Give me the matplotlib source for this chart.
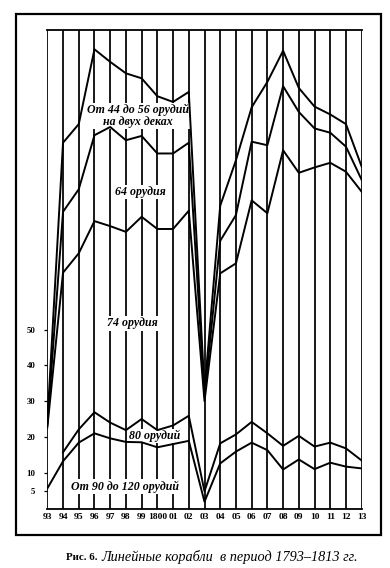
import matplotlib.pyplot as plt
import numpy as np
from matplotlib.patches import Rectangle

plt.rcParams["font.family"] = ["Liberation Serif", "DejaVu Serif"]

# year labels (1793-1813)
years = ["93", "94", "95", "96", "97", "98", "99", "1800", "01", "02", "03",
         "04", "05", "06", "07", "08", "09", "10", "11", "12", "13"]

# cumulative (stacked) number of ships
guns_90_120 = [5.6, 13.2, 18.4, 21.0, 19.6, 18.6, 18.5, 17.1, 18.0, 18.9, 1.9,
               12.6, 15.9, 18.4, 16.3, 10.9, 13.7, 11.0, 12.8, 11.7, 11.2]
guns_80 = [np.nan, 15.7, 22.1, 26.9, 24.0, 21.9, 25.0, 21.9, 23.2, 25.9, 4.8,
           18.2, 20.7, 24.2, 21.0, 17.5, 20.3, 17.3, 18.4, 16.8, 13.4]
guns_74 = [22.6, 65.9, 71.3, 80.3, 78.9, 77.3, 81.5, 78.1, 78.1, 83.2, 30.0,
           65.7, 68.5, 86.1, 82.5, 100.1, 93.8, 95.3, 96.6, 94.1, 88.5]
guns_64 = [23.2, 82.9, 89.2, 104.3, 106.6, 102.9, 104.1, 99.2, 99.2, 102.2, 31.5,
           74.8, 82.0, 102.5, 101.5, 118.0, 110.8, 106.2, 105.0, 101.1, 91.8]
guns_44_56 = [23.8, 102.2, 107.4, 128.3, 124.8, 121.6, 120.2, 115.2, 113.6, 116.4, 33.0,
              84.6, 97.3, 112.1, 119.2, 127.9, 117.5, 112.3, 110.1, 107.4, 95.5]

y_ticks = [5, 10, 20, 30, 40, 50]
y_max = 133.7

labels = [
    ("От 44 до 56 орудий\nна двух деках", 5.77, 109.6),
    ("64 орудия", 5.9, 88.4),
    ("74 орудия", 5.42, 51.7),
    ("80 орудий", 6.8, 20.3),
    ("От 90 до 120 орудий", 4.97, 6.1),
]


def draw_chart(path="out.png"):
    fig = plt.figure(figsize=(3.9, 5.68), dpi=100)
    W, H = 390, 568

    # outer frame
    fig.patches.append(Rectangle((16 / W, 1 - 535 / H), 365 / W, 521 / H,
                                 transform=fig.transFigure, fill=False,
                                 lw=1.6, color="black"))

    ax = fig.add_axes([47.3 / W, 1 - 508.5 / H, (361.7 - 47.3) / W, (508.5 - 30) / H])
    x = np.arange(len(years))

    ax.vlines(x, 0, y_max, color="#111111", lw=1.35, zorder=1)
    for series in (guns_90_120, guns_80, guns_74, guns_64, guns_44_56):
        ax.plot(x, series, color="black", lw=1.4, zorder=3)

    for text, tx, ty in labels:
        ax.text(tx, ty, text, ha="center", va="center", fontsize=8.6,
                style="italic", weight="bold", linespacing=1.0, zorder=2,
                bbox=dict(facecolor="white", edgecolor="none", pad=0.8))

    ax.set_xlim(0, len(years) - 1)
    ax.set_ylim(0, y_max)
    for side in ("left", "right"):
        ax.spines[side].set_visible(False)
    for side in ("top", "bottom"):
        ax.spines[side].set_linewidth(1.3)

    ax.set_xticks(x)
    ax.set_xticklabels(years, fontsize=6.8, weight="bold")
    ax.tick_params(axis="x", length=0, pad=3)
    ax.set_yticks(y_ticks)
    ax.set_yticklabels([str(v) for v in y_ticks], fontsize=6.3, weight="bold")
    ax.tick_params(axis="y", length=2.5, width=0.9, pad=6)

    fig.text(98 / W, 1 - 557 / H, "Рис. 6.", ha="right", va="center",
             fontsize=7.8, weight="bold")
    fig.text(101 / W, 1 - 557 / H, "Линейные корабли  в период 1793–1813 гг.",
             ha="left", va="center", fontsize=10.3, style="italic")

    fig.savefig(path, dpi=100)
    plt.close(fig)


if __name__ == "__main__":
    draw_chart()
